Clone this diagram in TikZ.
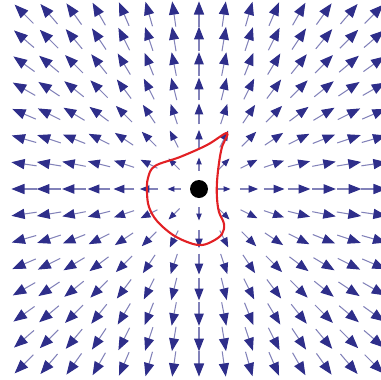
\documentclass[tikz,border=0pt]{standalone}
\usepackage{tikz}
\usetikzlibrary{arrows.meta}

\definecolor{fieldblue}{RGB}{46,46,138}
\definecolor{surfred}{RGB}{226,32,36}

\begin{document}
\begin{tikzpicture}[
    x=0.3mm, y=-0.3mm,
    field/.style={
        draw=fieldblue!60,
        line width=0.9pt
    },
    surface/.style={
        draw=surfred,
        line width=1.8pt
    },
    charge/.style={
        circle,
        fill=black,
        inner sep=0pt,
        minimum size=5.4mm
    }
]

\useasboundingbox (0,0) rectangle (381,379);
\clip (0,0) rectangle (381,379);

% radial field on a 15x15 grid
\foreach \i in {-7,...,7}{
  \foreach \j in {-7,...,7}{
    \pgfmathtruncatemacro\rsq{\i*\i+\j*\j}
    \ifnum\rsq>0
      \pgfmathsetmacro\rad{sqrt(\rsq)}
      \pgfmathsetmacro\len{30*\rad/(\rad+1.3)}
      \pgfmathsetmacro\xa{199+25*\i-\len/2*\i/\rad}
      \pgfmathsetmacro\ya{189+25*\j-\len/2*\j/\rad}
      \pgfmathsetmacro\xb{199+25*\i+\len/2*\i/\rad}
      \pgfmathsetmacro\yb{189+25*\j+\len/2*\j/\rad}
      \pgfmathsetmacro\hl{0.52*\len*0.8536}
      \pgfmathsetmacro\hw{0.40*\len*0.8536}
      \draw[field, -{Triangle[length=\hl pt, width=\hw pt, color=fieldblue]}]
        (\xa,\ya) -- (\xb,\yb);
    \fi
  }
}

% closed surface
\draw[surface] plot[smooth cycle, tension=0.6] coordinates {
    (227,133) (207,145) (180,157) (155,166) (148,178) (147,192)
    (149,207) (157,221) (173,235) (190,243) (202,245) (213,241)
    (222,234) (224,224) (219,212) (217,198) (217,182) (219,163)
    (222,147)};

\node[charge] (q) at (199,189) {};

\end{tikzpicture}
\end{document}
